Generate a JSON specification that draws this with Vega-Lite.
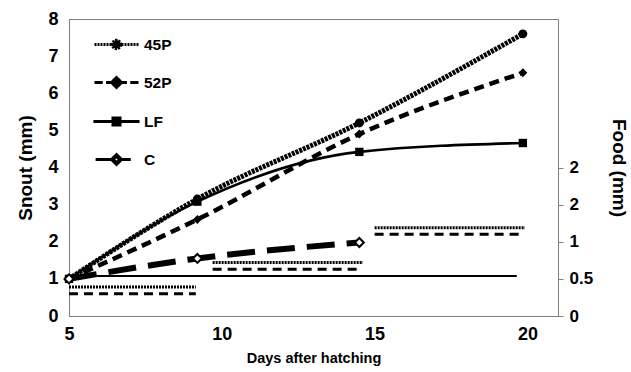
{
  "$schema": "https://vega.github.io/schema/vega-lite/v6.json",
  "width": 489,
  "height": 297,
  "autosize": {"type": "none"},
  "padding": {"left": 69, "top": 19, "right": 73, "bottom": 56},
  "background": "white",
  "config": {
    "view": {"stroke": "#7f7f7f", "strokeWidth": 1},
    "font": "Liberation Sans",
    "axis": {
      "labelFont": "Liberation Sans", "labelFontWeight": "bold", "labelColor": "black",
      "titleFont": "Liberation Sans", "titleFontWeight": "bold", "titleColor": "black",
      "grid": false, "domainColor": "#7f7f7f", "tickColor": "#7f7f7f"
    },
    "legend": {
      "orient": "none", "legendX": 35, "legendY": 13, "title": null,
      "symbolSize": 484, "rowPadding": 15, "labelOffset": 15,
      "symbolStrokeWidth": 3,
      "labelFont": "Liberation Sans", "labelFontSize": 15.5, "labelFontWeight": "bold", "labelColor": "black",
      "symbolOpacity": 1
    }
  },
  "datasets": {
    "growth": [
      {"series": "45P", "day": 5, "snout": 1.0},
      {"series": "45P", "day": 9.2, "snout": 3.15},
      {"series": "45P", "day": 14.5, "snout": 5.2},
      {"series": "45P", "day": 19.85, "snout": 7.6},
      {"series": "52P", "day": 5, "snout": 1.0},
      {"series": "52P", "day": 9.2, "snout": 2.6},
      {"series": "52P", "day": 14.5, "snout": 4.9},
      {"series": "52P", "day": 19.85, "snout": 6.55},
      {"series": "LF", "day": 5, "snout": 1.0},
      {"series": "LF", "day": 9.2, "snout": 3.08},
      {"series": "LF", "day": 14.5, "snout": 4.42},
      {"series": "LF", "day": 19.85, "snout": 4.66},
      {"series": "C", "day": 5, "snout": 1.0},
      {"series": "C", "day": 9.2, "snout": 1.55},
      {"series": "C", "day": 14.5, "snout": 1.98}
    ],
    "food": [
      {"type": "dotted", "day": 5, "day2": 9.15, "food": 0.39},
      {"type": "dashed", "day": 5, "day2": 9.15, "food": 0.30},
      {"type": "dotted", "day": 9.7, "day2": 14.62, "food": 0.72},
      {"type": "dashed", "day": 9.7, "day2": 14.5, "food": 0.63},
      {"type": "dotted", "day": 15.0, "day2": 19.92, "food": 1.19},
      {"type": "dashed", "day": 15.0, "day2": 19.75, "food": 1.10},
      {"type": "solid", "day": 5, "day2": 19.65, "food": 0.54}
    ]
  },
  "encoding": {
    "x": {
      "field": "day", "type": "quantitative",
      "scale": {"domain": [5, 21], "nice": false, "zero": false},
      "axis": {
        "title": "Days after hatching", "values": [5, 10, 15, 20], "ticks": false,
        "labelFontSize": 18, "labelPadding": 9, "labelFlush": false,
        "titleFontSize": 14.5, "titlePadding": 8
      }
    }
  },
  "layer": [
    {
      "data": {"name": "food"},
      "encoding": {
        "x2": {"field": "day2"},
        "y": {
          "field": "food", "type": "quantitative",
          "scale": {"domain": [0, 4], "nice": false},
          "axis": {
            "orient": "right", "title": "Food (mm)", "values": [0, 0.5, 1, 1.5, 2],
            "format": "~g",
            "tickSize": 5, "labelFontSize": 17, "labelPadding": 6,
            "titleFontSize": 19, "titlePadding": 16
          }
        }
      },
      "layer": [
        {
          "transform": [{"filter": "datum.type === 'dotted'"}],
          "mark": {"type": "rule", "color": "black", "strokeWidth": 3, "strokeDash": [2, 1]}
        },
        {
          "transform": [{"filter": "datum.type === 'dashed'"}],
          "mark": {"type": "rule", "color": "black", "strokeWidth": 3, "strokeDash": [9, 6]}
        },
        {
          "transform": [{"filter": "datum.type === 'solid'"}],
          "mark": {"type": "rule", "color": "black", "strokeWidth": 2}
        }
      ]
    },
    {
      "data": {"name": "growth"},
      "encoding": {
        "y": {
          "field": "snout", "type": "quantitative",
          "scale": {"domain": [0, 8], "nice": false},
          "axis": {
            "orient": "left", "title": "Snout (mm)", "values": [0, 1, 2, 3, 4, 5, 6, 7, 8],
            "ticks": false, "labelFontSize": 18, "labelPadding": 11,
            "titleFontSize": 19, "titlePadding": 12
          }
        }
      },
      "layer": [
        {
          "transform": [{"filter": "datum.series === '45P'"}],
          "mark": {"type": "line", "interpolate": "monotone", "color": "black", "strokeWidth": 5, "strokeDash": [3, 1]}
        },
        {
          "transform": [{"filter": "datum.series === '52P'"}],
          "mark": {"type": "line", "interpolate": "monotone", "color": "black", "strokeWidth": 4.5, "strokeDash": [10, 6]}
        },
        {
          "transform": [{"filter": "datum.series === 'LF'"}],
          "mark": {"type": "line", "interpolate": "monotone", "color": "black", "strokeWidth": 2.6}
        },
        {
          "transform": [{"filter": "datum.series === 'C'"}],
          "mark": {"type": "line", "interpolate": "monotone", "color": "black", "strokeWidth": 6, "strokeDash": [28, 12]}
        },
        {
          "transform": [{"filter": "datum.series === '45P'"}],
          "mark": {"type": "point", "shape": "circle", "filled": true, "color": "black", "opacity": 1, "size": 80}
        },
        {
          "transform": [{"filter": "datum.series === '52P'"}],
          "mark": {"type": "point", "shape": "diamond", "filled": true, "color": "black", "opacity": 1, "size": 80}
        },
        {
          "transform": [{"filter": "datum.series === 'LF'"}],
          "mark": {"type": "point", "shape": "square", "filled": true, "color": "black", "opacity": 1, "size": 70}
        },
        {
          "transform": [{"filter": "datum.series === 'C'"}],
          "mark": {"type": "point", "shape": "diamond", "fill": "white", "stroke": "black", "strokeWidth": 2, "opacity": 1, "size": 80}
        },
        {
          "mark": {"type": "point", "fill": "black", "stroke": "black", "strokeWidth": 3, "opacity": 0, "size": 10},
          "encoding": {
            "shape": {
              "field": "series", "type": "nominal", "title": null,
              "scale": {
                "domain": ["45P", "52P", "LF", "C"],
                "range": [
                  "M-2,0H2M0.38,0A0.38,0.38,0,1,1,-0.38,0A0.38,0.38,0,1,1,0.38,0Z",
                  "M-2,0H-1.25M-0.95,0H-0.5M0.5,0H0.95M1.25,0H2M0,-0.45L0.45,0L0,0.45L-0.45,0Z",
                  "M-2.1,0H2.1M-0.32,-0.32H0.32V0.32H-0.32Z",
                  "M-1.9,0H-0.45M0.45,0H1.3M0,-0.45L0.45,0L0,0.45L-0.45,0ZM0,-0.3L-0.3,0L0,0.3L0.3,0Z"
                ]
              }
            },
            "strokeDash": {
              "field": "series", "type": "nominal", "title": null,
              "scale": {"domain": ["45P", "52P", "LF", "C"], "range": [[2, 1], [1, 0], [1, 0], [1, 0]]}
            }
          }
        }
      ]
    }
  ],
  "resolve": {"scale": {"y": "independent"}}
}
